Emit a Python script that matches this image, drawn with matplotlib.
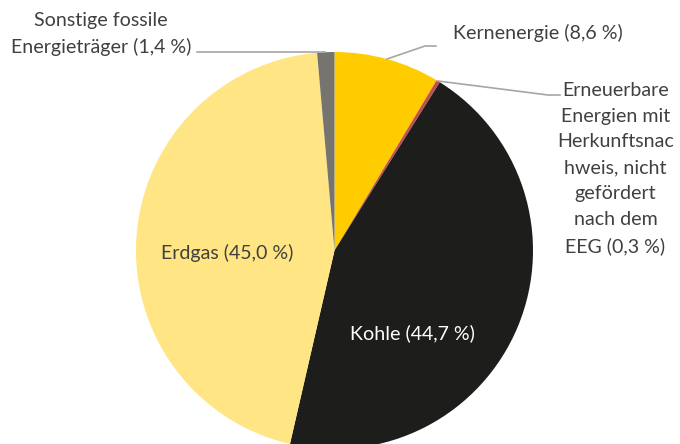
import matplotlib.pyplot as plt

labels = ["Kernenergie", "Erneuerbare Energien mit Herkunftsnachweis, nicht gefördert nach dem EEG",
          "Kohle", "Erdgas", "Sonstige fossile Energieträger"]
values = [8.6, 0.3, 44.7, 45.0, 1.4]
colors = ["#FFCC00", "#C0504D", "#1D1D1B", "#FFE583", "#75746E"]

W, H = 680, 444
fig = plt.figure(figsize=(6.8, 4.44), dpi=100)
ax = fig.add_axes([0, 0, 1, 1])

cx, cy, r = 334.5, H - 250.5, 198.5
ax.pie(values, colors=colors, startangle=90, counterclock=False,
       center=(cx, cy), radius=r, frame=True,
       wedgeprops=dict(linewidth=0))
ax.set_xlim(0, W)
ax.set_ylim(0, H)
ax.set_aspect("equal")
ax.axis("off")

font = "Lato"
tc = "#404040"
fs = 14.1
lc = "#A6A6A6"

def P(x, y):
    return (x, H - y)

# Kernenergie
ax.text(*P(453, 33), "Kernenergie (8,6 %)", ha="left", va="center", fontsize=fs, color=tc, family=font)
ax.plot(*zip(P(387, 59), P(425, 46), P(436, 46)), color=lc, lw=1.2)

# Erneuerbare
ee_text = "Erneuerbare\nEnergien mit\nHerkunftsnac\nhweis, nicht\ngefördert\nnach dem\nEEG (0,3 %)"
ax.text(*P(615.5, 168.5), ee_text, ha="center", va="center", fontsize=fs, color=tc,
        family=font, linespacing=1.63)
ax.plot(*zip(P(438, 81), P(548, 95), P(560, 95)), color=lc, lw=1.2)

# Sonstige
ax.text(*P(101, 34), "Sonstige fossile\nEnergieträger (1,4 %)", ha="center", va="center",
        fontsize=fs, color=tc, family=font, linespacing=1.63)
ax.plot(*zip(P(197, 52), P(325, 52)), color=lc, lw=1.2)

# Inside labels
ax.text(*P(227.5, 253), "Erdgas (45,0 %)", ha="center", va="center", fontsize=fs, color=tc, family=font)
ax.text(*P(412, 333), "Kohle (44,7 %)", ha="center", va="center", fontsize=fs, color="white", family=font)

fig.savefig("out.png", dpi=100)
